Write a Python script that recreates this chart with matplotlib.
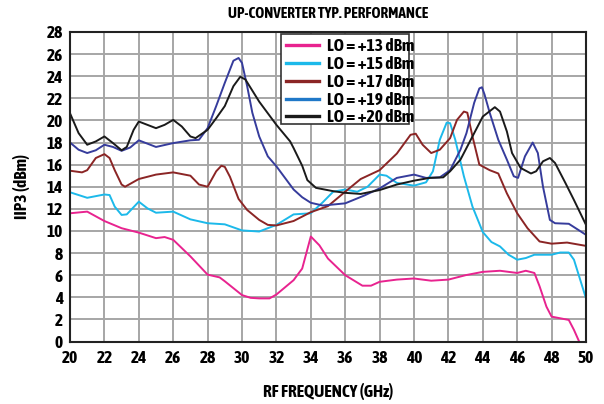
import matplotlib
matplotlib.use("Agg")
import matplotlib.pyplot as plt
from matplotlib.lines import Line2D
from matplotlib.patches import Rectangle

plt.rcParams['font.family'] = ['Asap Condensed', 'DejaVu Sans']
plt.rcParams['font.weight'] = 'bold'

title = "UP-CONVERTER TYP. PERFORMANCE"
xlabel = "RF FREQUENCY (GHz)"
ylabel = "IIP3 (dBm)"
labels = ["LO = +13 dBm", "LO = +15 dBm", "LO = +17 dBm", "LO = +19 dBm", "LO = +20 dBm"]
colors = ["#e8238f", "#1cb9ea", "#8b2525", "#363c9c", "#1a1a1a"]
legend_colors = ["#e8238f", "#1cb9ea", "#8b2525", "#1f78c8", "#1a1a1a"]

f13 = [20, 21, 22, 23, 24, 25, 25.5, 26, 27, 28, 28.7, 29, 30, 30.5, 31, 31.6, 32, 33, 33.5, 34, 34.5, 35,
       36, 37, 37.5, 38, 39, 40, 41, 42, 43, 44, 45, 46, 46.5, 47, 47.3, 47.7, 48, 48.5, 49, 49.3, 49.6]
v13 = [11.6, 11.75, 10.9, 10.25, 9.85, 9.35, 9.45, 9.2, 7.7, 6.05, 5.8, 5.45, 4.2, 3.95, 3.9, 3.9, 4.25, 5.55, 6.6, 9.5, 8.7, 7.5,
       6.0, 5.05, 5.05, 5.4, 5.6, 5.7, 5.5, 5.6, 6.0, 6.3, 6.4, 6.2, 6.4, 6.2, 5.0, 3.15, 2.25, 2.1, 1.95, 1.05, 0.0]

f15 = [20, 21, 22, 22.3, 22.6, 23, 23.3, 24, 24.5, 25, 26, 27, 28, 29, 30, 31, 32, 33, 34, 34.7, 35.3, 36, 36.7, 37.3,
       38, 38.4, 39, 40, 40.7, 41.1, 41.5, 41.9, 42.1, 42.4, 42.9, 43.4, 44, 44.5, 45, 45.5, 46, 46.5, 47, 48, 48.5,
       49, 49.3, 50]
v15 = [13.5, 13.0, 13.3, 13.25, 12.2, 11.45, 11.5, 12.65, 12.05, 11.65, 11.75, 11.05, 10.7, 10.6, 10.05, 9.95, 10.55, 11.5, 11.6, 12.6, 13.55, 13.75, 13.55, 14.0,
       15.1, 15.0, 14.35, 14.1, 14.4, 15.4, 18.25, 19.8, 19.75, 18.25, 14.95, 12.2, 9.9, 9.0, 8.6, 7.85, 7.4, 7.55, 7.85, 7.85, 8.05,
       8.05, 7.4, 3.9]

f17 = [20, 20.7, 21, 21.5, 22, 22.3, 22.6, 23, 23.2, 24, 25, 26, 27, 27.5, 28, 28.5, 28.8, 29, 29.3, 29.8, 30.3, 31, 31.5, 32,
       33, 34, 35, 36, 36.9, 38, 39, 39.8, 40.1, 40.5, 41, 41.5, 42.1, 42.5, 42.9, 43.1, 43.4, 43.8, 44.4, 44.9, 45.4, 46,
       46.6, 47.3, 48, 48.9, 50]
v17 = [15.45, 15.3, 15.5, 16.6, 16.95, 16.6, 15.5, 14.2, 14.0, 14.7, 15.1, 15.3, 15.0, 14.2, 14.0, 15.4, 15.9, 15.8, 14.9, 12.9, 11.9, 11.0, 10.55, 10.5,
       10.9, 11.7, 12.25, 13.55, 14.7, 15.5, 17.0, 18.7, 18.8, 17.8, 17.05, 17.35, 18.4, 20.05, 20.8, 20.7, 18.55, 16.0, 15.5, 15.2, 13.4, 11.6,
       10.25, 9.05, 8.85, 8.95, 8.65]

f19 = [20, 20.5, 21, 21.5, 22, 22.5, 23, 23.5, 24, 25, 26, 27, 27.5, 28, 28.5, 29, 29.5, 29.8, 30, 30.3, 30.6, 31, 31.5, 32,
       33, 33.5, 34, 34.7, 36, 37.1, 38, 39, 40, 40.7, 41.5, 42.1, 42.7, 43.05, 43.5, 43.8, 43.95, 44.1, 44.4, 44.9, 45.4,
       45.8, 46.05, 46.45, 46.9, 47.2, 47.5, 47.9, 48.2, 49, 50]
v19 = [18.0, 17.35, 17.05, 17.3, 17.8, 17.6, 17.25, 17.55, 18.2, 17.6, 17.95, 18.2, 18.25, 19.3, 21.3, 23.4, 25.4, 25.65, 25.2, 23.1, 20.7, 18.55, 16.75, 15.85,
       13.75, 13.05, 12.55, 12.3, 12.5, 13.2, 13.85, 14.8, 15.1, 14.8, 14.85, 15.5, 17.35, 18.85, 21.6, 22.9, 23.0, 22.35, 20.7, 18.25, 16.45,
       14.95, 14.8, 16.75, 18.0, 17.05, 14.0, 11.0, 10.7, 10.65, 9.65]

f20 = [20, 20.5, 21, 21.5, 22, 22.5, 23, 23.3, 23.7, 24, 24.5, 25, 25.5, 26, 26.5, 27, 27.3, 28, 28.5, 29, 29.5, 29.9, 30.2,
       30.5, 31, 32, 32.8, 33, 33.5, 33.8, 34.3, 35.3, 36, 36.9, 38, 39, 40, 40.9, 41.7, 42.1, 42.7, 43.5, 44, 44.7, 45,
       45.4, 45.7, 46.2, 46.8, 47.1, 47.5, 47.9, 48.2, 48.8, 49.3, 50]
v20 = [20.65, 18.85, 17.8, 18.1, 18.55, 17.95, 17.3, 17.6, 19.15, 19.9, 19.6, 19.3, 19.6, 20.05, 19.45, 18.55, 18.4, 19.15, 20.2, 21.3, 23.1, 23.95, 23.7,
       22.95, 21.7, 19.6, 18.1, 17.5, 15.9, 14.6, 13.9, 13.6, 13.45, 13.35, 13.7, 14.2, 14.55, 14.8, 14.85, 15.4, 16.45, 18.85, 20.35, 21.2, 20.8,
       19.0, 17.05, 15.7, 15.2, 15.4, 16.3, 16.6, 16.15, 14.35, 12.8, 10.55]

xs = [f13, f15, f17, f19, f20]
ys = [v13, v15, v17, v19, v20]

xticks = list(range(20, 51, 2))
yticks = list(range(0, 29, 2))

fig = plt.figure(figsize=(6.04, 4.04), dpi=100)
ax = fig.add_axes([70/604, (404-341.5)/404, 516/604, 309.5/404])

for x, y, c in zip(xs, ys, colors):
    ax.plot(x, y, color=c, lw=1.4, zorder=3)

ax.set_xlim(20, 50)
ax.set_ylim(0, 28)
ax.set_xticks(xticks)
ax.set_yticks(yticks)
ax.grid(True, color="#a6a6a6", lw=1.4, zorder=0)
ax.set_axisbelow(True)
for s in ax.spines.values():
    s.set_color("#222222")
    s.set_linewidth(1.5)
    s.set_zorder(6)
ax.tick_params(axis='y', length=0, labelsize=12.5, pad=5)
ax.tick_params(axis='x', length=0, labelsize=12.5, pad=6)
for lab in ax.get_xticklabels() + ax.get_yticklabels():
    lab.set_fontweight('bold')

ax.set_xlabel(xlabel, fontsize=12.5, fontweight='bold', labelpad=12)
ax.set_ylabel(ylabel, fontsize=12.5, fontweight='bold', labelpad=12)
ax.set_title(title, fontsize=11, fontweight='bold', pad=10)

# legend frame (text slightly overruns the box, as in the reference)
x0, x1 = (281 - 70) / 516, (409 - 70) / 516
y1, y0 = (341.5 - 34) / 309.5, (341.5 - 124) / 309.5
ax.add_patch(Rectangle((x0, y0), x1 - x0, y1 - y0, transform=ax.transAxes,
                       facecolor='white', edgecolor='#333333', lw=1.2, zorder=4))

handles = [Line2D([], [], color=c, lw=2.4) for c in legend_colors]
leg = ax.legend(handles, labels, loc='upper left', bbox_to_anchor=(x0 + 2/516, y1 - 1/309.5),
                prop={'weight': 'bold', 'size': 12.5}, frameon=False,
                borderpad=0.2, labelspacing=0.1,
                handlelength=1.9, handletextpad=0.45, borderaxespad=0.0)
leg.set_zorder(5)

fig.savefig("out.png", dpi=100)
